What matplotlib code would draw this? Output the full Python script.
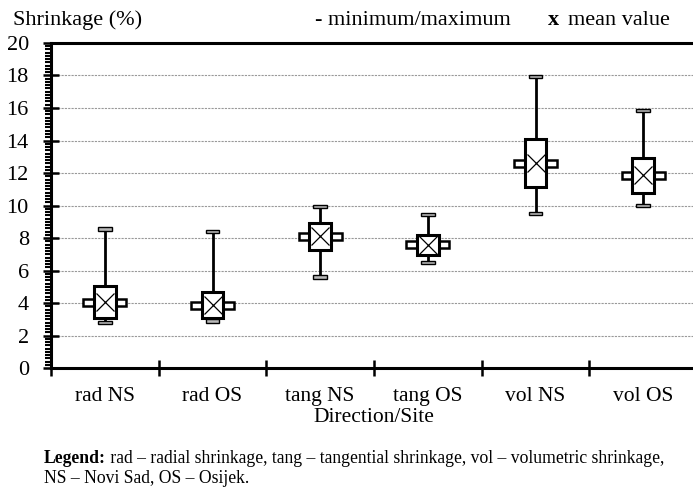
import matplotlib.pyplot as plt
from matplotlib.patches import Rectangle
from matplotlib.ticker import MultipleLocator

# --- data ---
cats = ["rad NS", "rad OS", "tang NS", "tang OS", "vol NS", "vol OS"]
mins = [2.8, 2.9, 5.6, 6.5, 9.5, 10.0]
box_low = [3.1, 3.1, 7.25, 6.95, 11.15, 10.75]
box_high = [5.05, 4.65, 8.95, 8.2, 14.1, 12.95]
maxs = [8.55, 8.4, 9.95, 9.45, 17.95, 15.85]
means = [4.05, 3.85, 8.1, 7.6, 12.6, 11.85]

plt.rcParams["font.family"] = ["Liberation Serif", "DejaVu Serif"]

fig = plt.figure(figsize=(6.93, 4.93), dpi=100)
ax = fig.add_axes([51 / 693, 0.2535, 646 / 693, 0.6593])

BOX_W = 0.2
CAP_W = 0.13
CAP_H = 0.22
TAB_W = 0.1
TAB_H = 0.45

for i in range(len(cats)):
    # whiskers
    ax.plot([i, i], [mins[i], box_low[i]], color="black", lw=2, zorder=3)
    ax.plot([i, i], [box_high[i], maxs[i]], color="black", lw=2, zorder=3)
    # min / max caps
    for v in (mins[i], maxs[i]):
        ax.add_patch(Rectangle((i - CAP_W / 2, v - CAP_H / 2), CAP_W, CAP_H,
                               facecolor="#b8b8b8", edgecolor="black", lw=1, zorder=4))
    # side tabs at the mean
    for x0 in (i - BOX_W / 2 - TAB_W, i + BOX_W / 2):
        ax.add_patch(Rectangle((x0, means[i] - TAB_H / 2), TAB_W, TAB_H,
                               facecolor="white", edgecolor="black", lw=1.8, zorder=4))
    # box
    ax.add_patch(Rectangle((i - BOX_W / 2, box_low[i]), BOX_W, box_high[i] - box_low[i],
                           facecolor="white", edgecolor="black", lw=2.2, zorder=5))
    # mean marker
    ax.plot(i, means[i], marker="x", markersize=13, mew=0.9, color="black", zorder=6)

ax.set_xlim(-0.5, 5.5)
ax.set_ylim(0, 20)

ax.set_xticks([k - 0.5 for k in range(7)])
ax.set_xticklabels([])
ax.set_xticks(range(len(cats)), minor=True)
ax.set_xticklabels(cats, minor=True, fontsize=15.5)
ax.tick_params(axis="x", which="major", direction="inout", length=12, width=1.8)
ax.tick_params(axis="x", which="minor", length=0, pad=13.5)

ax.yaxis.set_major_locator(MultipleLocator(2))
ax.yaxis.set_minor_locator(MultipleLocator(0.2))
ax.tick_params(axis="y", which="major", direction="inout", length=12, width=1.8,
               labelsize=16, pad=10)
ax.tick_params(axis="y", which="minor", direction="out", length=4, width=1.5)

ax.grid(axis="y", which="major", linestyle=(0, (2, 1)), color="#999999", lw=0.8)
ax.set_axisbelow(True)

for s in ("left", "bottom", "top"):
    ax.spines[s].set_linewidth(2.2)
ax.spines["right"].set_visible(False)

ax.set_xlabel("Direction/Site", fontsize=15.5, labelpad=1.5)

ytop = 1 - 25 / 493
fig.text(13 / 693, ytop, "Shrinkage (%)", fontsize=16, va="baseline")
fig.text(315 / 693, ytop, "- minimum/maximum", fontsize=16, va="baseline")
fig.text(548 / 693, ytop, "x", fontsize=16, va="baseline", fontweight="bold")
fig.text(568 / 693, ytop, "mean value", fontsize=16, va="baseline")

leg = fig.text(44 / 693, 1 - 463 / 493, "Legend:", fontsize=12.7, va="baseline",
               fontweight="bold")
ax.annotate(" rad \u2013 radial shrinkage, tang \u2013 tangential shrinkage, vol \u2013 volumetric shrinkage,",
            xy=(1, 0), xycoords=leg, va="bottom", ha="left", fontsize=12.7,
            annotation_clip=False)
fig.text(44 / 693, 1 - 483 / 493, "NS \u2013 Novi Sad, OS \u2013 Osijek.", fontsize=12.7,
         va="baseline")

fig.savefig("out.png", dpi=100)
